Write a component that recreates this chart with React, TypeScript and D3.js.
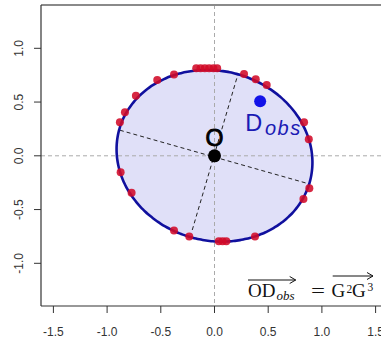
import React from "react";
import * as d3 from "d3";

// ---- data ----
const xTicks = [-1.5, -1, -0.5, 0, 0.5, 1, 1.5];
const xTickLabels = ["-1.5", "-1.0", "-0.5", "0.0", "0.5", "1.0", "1.5"];
const yTicks = [-1, -0.5, 0, 0.5, 1];
const yTickLabels = ["-1.0", "-0.5", "0.0", "0.5", "1.0"];

const ellipseCenter = [0, 0];
const ellipseSemiAxes = [0.92, 0.789];
const ellipseAngleDeg = -15;

const pointsX = [-0.881, -0.834, -0.732, -0.533, -0.377, -0.17, -0.13, -0.09, -0.05, -0.01, 0.025, 0.275, 0.384, 0.486, 0.834, 0.878, 0.883, 0.828, 0.377, 0.04, 0.075, 0.11, -0.235, -0.377, -0.772, -0.874];
const pointsY = [0.311, 0.404, 0.558, 0.704, 0.757, 0.815, 0.815, 0.815, 0.815, 0.815, 0.815, 0.76, 0.713, 0.658, 0.311, 0.155, -0.303, -0.403, -0.75, -0.795, -0.795, -0.795, -0.75, -0.694, -0.344, -0.154];

const majorAxisX = [-0.881, 0.865];
const majorAxisY = [0.238, -0.257];
const minorAxisX = [0.207, -0.212];
const minorAxisY = [0.72, -0.707];

const originPoint = [0, 0];
const dObsPoint = [0.425, 0.507];

// ---- layout ----
const W = 381;
const H = 341;
const plotLeft = 41;
const plotTop = 5;
const plotBottom = 306;
const plotRight = 388;

export default function App() {
  const x = d3.scaleLinear().domain([-1.5, 1.5]).range([53.4, 375.6]);
  const y = d3.scaleLinear().domain([-1, 1]).range([263.3, 48.3]);

  const th = (ellipseAngleDeg * Math.PI) / 180;
  const [a, b] = ellipseSemiAxes;
  const ellPts: [number, number][] = d3.range(0, 360, 2).map((deg) => {
    const t = (deg * Math.PI) / 180;
    const ex = ellipseCenter[0] + a * Math.cos(t) * Math.cos(th) - b * Math.sin(t) * Math.sin(th);
    const ey = ellipseCenter[1] + a * Math.cos(t) * Math.sin(th) + b * Math.sin(t) * Math.cos(th);
    return [x(ex), y(ey)];
  });
  const ellPath = d3.line().curve(d3.curveCardinalClosed)(ellPts) || "";

  const serif = "'Liberation Serif', 'Times New Roman', serif";
  const sans = "'Liberation Sans', Arial, sans-serif";

  const arrow = (x1: number, x2: number, yy: number) => (
    <g stroke="#111" strokeWidth={1} fill="none">
      <line x1={x1} y1={yy} x2={x2} y2={yy} />
      <path d={`M${x2 - 6},${yy - 3.5} L${x2},${yy} L${x2 - 6},${yy + 3.5}`} />
    </g>
  );

  return (
    <svg
      width={W}
      height={H}
      style={{ position: "absolute", left: 0, top: 0, background: "#fff" }}
    >
      <defs>
        <clipPath id="plotClip">
          <rect x={plotLeft} y={plotTop} width={plotRight - plotLeft} height={plotBottom - plotTop} />
        </clipPath>
      </defs>

      <g clipPath="url(#plotClip)">
        {/* ellipse fill */}
        <path d={ellPath} fill="#e0e0f8" stroke="none" />
        {/* reference lines */}
        <line x1={x(0)} x2={x(0)} y1={plotTop} y2={plotBottom} stroke="#aaa" strokeWidth={1} strokeDasharray="4,3" />
        <line x1={plotLeft} x2={plotRight} y1={y(0)} y2={y(0)} stroke="#aaa" strokeWidth={1} strokeDasharray="4,3" />
        {/* principal axes */}
        <line x1={x(majorAxisX[0])} y1={y(majorAxisY[0])} x2={x(majorAxisX[1])} y2={y(majorAxisY[1])} stroke="#222" strokeWidth={1} strokeDasharray="4,3" />
        <line x1={x(minorAxisX[0])} y1={y(minorAxisY[0])} x2={x(minorAxisX[1])} y2={y(minorAxisY[1])} stroke="#222" strokeWidth={1} strokeDasharray="4,3" />
        {/* ellipse outline */}
        <path d={ellPath} fill="none" stroke="#10109e" strokeWidth={2.6} />
        {/* red points */}
        {pointsX.map((px, i) => (
          <circle key={i} cx={x(px)} cy={y(pointsY[i])} r={4} fill="rgba(210,10,40,0.88)" />
        ))}
        {/* origin */}
        <circle cx={x(originPoint[0])} cy={y(originPoint[1])} r={6.5} fill="#000" />
        <text x={x(originPoint[0])} y={y(originPoint[1]) - 9.5} textAnchor="middle" fontFamily={sans} fontSize={23} fill="#000" stroke="#000" strokeWidth={0.9}>O</text>
        {/* D obs */}
        <circle cx={x(dObsPoint[0])} cy={y(dObsPoint[1])} r={6} fill="#1212e8" />
        <text x={245.2} y={130.7} fontFamily={sans} fontSize={23.5} fill="#1a1ab4">D</text>
        <text x={265} y={135} fontFamily={sans} fontSize={20} fontStyle="italic" fill="#1a1ab4" letterSpacing={1.5}>obs</text>
      </g>

      {/* frame */}
      <line x1={plotLeft} x2={W} y1={plotTop} y2={plotTop} stroke="#8a8a8a" strokeWidth={2} />
      <line x1={plotLeft} x2={plotLeft} y1={plotTop} y2={plotBottom} stroke="#333" strokeWidth={1.2} />
      <line x1={plotLeft} x2={W} y1={plotBottom} y2={plotBottom} stroke="#333" strokeWidth={1.2} />

      {/* x axis */}
      {xTicks.map((t, i) => (
        <g key={i}>
          <line x1={x(t)} x2={x(t)} y1={plotBottom} y2={plotBottom + 7} stroke="#333" strokeWidth={1} />
          <text x={x(t)} y={336} textAnchor="middle" fontFamily={sans} fontSize={12} fill="#333">{xTickLabels[i]}</text>
        </g>
      ))}
      {/* y axis */}
      {yTicks.map((t, i) => (
        <g key={i}>
          <line x1={plotLeft - 7} x2={plotLeft} y1={y(t)} y2={y(t)} stroke="#333" strokeWidth={1} />
          <text transform={`translate(22.5,${y(t)}) rotate(-90)`} textAnchor="middle" fontFamily={sans} fontSize={12} fill="#333">{yTickLabels[i]}</text>
        </g>
      ))}

      {/* formula */}
      <g fill="#111" fontFamily={serif}>
        <text x={248} y={296.7} fontSize={19}>OD</text>
        <text x={276.5} y={299.5} fontSize={13} fontStyle="italic">obs</text>
        <text x={311} y={296.7} fontSize={19} textLength={14} lengthAdjust="spacingAndGlyphs">=</text>
        <text x={331.5} y={296.7} fontSize={19}>G</text>
        <text x={346.5} y={292.7} fontSize={11.5}>2</text>
        <text x={352} y={296.7} fontSize={19}>G</text>
        <text x={367.5} y={291} fontSize={11.5}>3</text>
      </g>
      {arrow(248, 295.7, 280)}
      {arrow(332.7, 373, 276)}
    </svg>
  );
}
